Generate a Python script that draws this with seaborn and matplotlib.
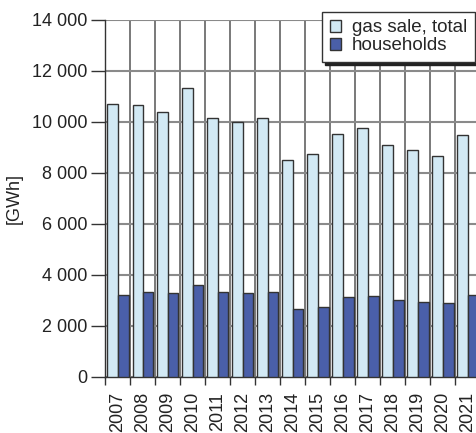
import matplotlib
matplotlib.use("Agg")
import matplotlib.pyplot as plt
import matplotlib.ticker as mticker
import seaborn as sns
import pandas as pd
import numpy as np

years = [str(y) for y in range(2007, 2022)]
gas_total = [10700, 10680, 10400, 11340, 10170, 9990, 10160, 8490,
             8740, 9540, 9740, 9080, 8910, 8660, 9500]
households = [3200, 3305, 3265, 3605, 3305, 3265, 3320, 2650,
              2740, 3135, 3150, 3005, 2940, 2885, 3190]
series_names = ["gas sale, total", "households"]

df = pd.DataFrame({
    "year": years * 2,
    "value": gas_total + households,
    "series": [series_names[0]] * len(years) + [series_names[1]] * len(years),
})

sns.set_style("white")
plt.rcParams["font.family"] = ["Liberation Sans", "DejaVu Sans"]
plt.rcParams["font.size"] = 13

W, H = 477, 433
fig = plt.figure(figsize=(W / 100, H / 100), dpi=100)
left, right, top, bottom = 105.5, 480.5, 20, 376.5
ax = fig.add_axes([left / W, 1 - bottom / H, (right - left) / W, (bottom - top) / H])

palette = {series_names[0]: "#D2E9F4", series_names[1]: "#4A5FA9"}
sns.barplot(data=df, x="year", y="value", hue="series", palette=palette,
            width=0.84, saturation=1, edgecolor="#333333", linewidth=1.0,
            ax=ax, zorder=3, legend=True)

ax.set_xlim(-0.5, len(years) - 0.5)
ax.set_ylim(0, 14000)

# horizontal grid at major y ticks, vertical grid at category boundaries
ax.yaxis.set_major_locator(mticker.MultipleLocator(2000))
ax.yaxis.set_major_formatter(mticker.FuncFormatter(
    lambda v, p: f"{int(v):,}".replace(",", " ")))
ax.set_xticks(np.arange(len(years) + 1) - 0.5, minor=True)
ax.grid(axis="y", which="major", color="#8a8a8a", linewidth=1.5, zorder=0)
ax.grid(axis="x", which="minor", color="#555555", linewidth=1.1, zorder=0)
ax.grid(axis="x", which="major", visible=False)
ax.set_axisbelow(True)

for s in ["top", "right"]:
    ax.spines[s].set_visible(False)
for s in ["left", "bottom"]:
    ax.spines[s].set_color("#333333")
    ax.spines[s].set_linewidth(1.0)

ax.tick_params(axis="y", which="major", direction="out", length=10, width=1,
               color="#333333", pad=3, labelsize=13, labelcolor="#222222", left=True)
ax.tick_params(axis="x", which="major", length=0, pad=11, labelsize=13,
               labelcolor="#222222", rotation=90)
ax.tick_params(axis="x", which="minor", direction="out", length=6, width=1,
               color="#333333", bottom=True)

ax.set_xlabel("")
ax.set_ylabel("[GWh]", fontsize=13, color="#222222")
ax.yaxis.set_label_coords((23 - left) / (right - left), 0.5)

handles, labels = ax.get_legend_handles_labels()
ax.legend(handles, labels, loc="upper right",
          bbox_to_anchor=(475 / W, 1 - 12 / H), bbox_transform=fig.transFigure,
          frameon=True, fancybox=False, shadow={"color": "#222222", "alpha": 1},
          edgecolor="#333333", framealpha=1, borderpad=0.4, labelspacing=0.05,
          handlelength=0.6, handleheight=0.6, handletextpad=0.6, borderaxespad=0,
          fontsize=13.5)

fig.savefig("out.png", dpi=100)
